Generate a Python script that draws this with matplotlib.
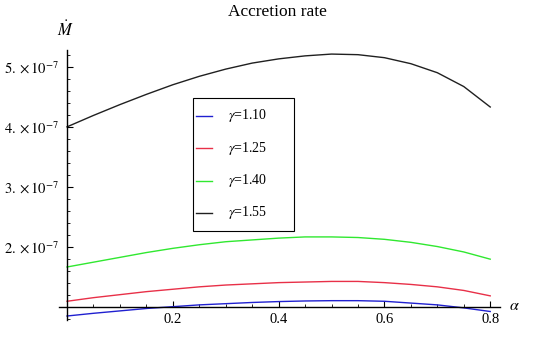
import matplotlib
matplotlib.use("Agg")
import matplotlib.pyplot as plt
from matplotlib.lines import Line2D
from matplotlib.patches import Rectangle
import numpy as np

plt.rcParams['font.family'] = 'serif'
plt.rcParams['font.serif'] = ['Liberation Serif', 'DejaVu Serif']
plt.rcParams['mathtext.fontset'] = 'stix'

# alpha grid and accretion rates (units of 1e-7)
alpha = [0.0, 0.05, 0.1, 0.15, 0.2, 0.25, 0.3, 0.35, 0.4, 0.45, 0.5, 0.55, 0.6, 0.65, 0.7, 0.75, 0.8]
mdot_110 = [0.855, 0.90, 0.94, 0.98, 1.01, 1.04, 1.06, 1.08, 1.095, 1.105, 1.11, 1.11, 1.10, 1.07, 1.04, 0.99, 0.93]
mdot_125 = [1.10, 1.16, 1.21, 1.26, 1.30, 1.34, 1.37, 1.39, 1.41, 1.42, 1.43, 1.43, 1.41, 1.38, 1.34, 1.28, 1.19]
mdot_140 = [1.67, 1.75, 1.83, 1.91, 1.98, 2.04, 2.09, 2.12, 2.15, 2.17, 2.17, 2.16, 2.13, 2.08, 2.01, 1.92, 1.80]
mdot_155 = [4.00, 4.19, 4.37, 4.54, 4.70, 4.84, 4.96, 5.06, 5.13, 5.18, 5.21, 5.20, 5.15, 5.05, 4.90, 4.67, 4.33]

labels = [r'$\gamma$=1.10', r'$\gamma$=1.25', r'$\gamma$=1.40', r'$\gamma$=1.55']
colors = ['#2020d0', '#e83048', '#30e830', '#202020']
yticks = [2e-7, 3e-7, 4e-7, 5e-7]
yticklabels = [r'$2.\times10^{-7}$', r'$3.\times10^{-7}$', r'$4.\times10^{-7}$', r'$5.\times10^{-7}$']
xticks = [0.2, 0.4, 0.6, 0.8]

W, H = 540, 337
fig = plt.figure(figsize=(W / 100, H / 100), dpi=100)
ax = fig.add_axes([0, 0, 1, 1])
ax.patch.set_alpha(0)

a = np.array(alpha)
for ys, c, lab in zip([mdot_110, mdot_125, mdot_140, mdot_155], colors, labels):
    ax.plot(a, np.array(ys) * 1e-7, color=c, lw=1.0, label=lab)

# limits chosen so that the origin lands where the reference has it
ax.set_xlim(-0.1267, 0.8941)
ax.set_ylim(0.506e-7, 6.109e-7)

for s in ['top', 'right']:
    ax.spines[s].set_visible(False)
ax.spines['left'].set_position(('data', 0))
ax.spines['bottom'].set_position(('data', 1e-7))
ax.spines['left'].set_bounds(0.79e-7, 5.28e-7)
ax.spines['bottom'].set_bounds(-0.016, 0.819)
ax.spines['left'].set_linewidth(1.0)
ax.spines['bottom'].set_linewidth(1.0)

ax.set_xticks(xticks, labels=['0.2', '0.4', '0.6', '0.8'])
ax.set_xticks(np.arange(0.05, 0.81, 0.05), minor=True)
ax.set_yticks(yticks, labels=yticklabels)
ax.set_yticks(np.arange(0.8, 5.21, 0.2) * 1e-7, minor=True)
ax.tick_params(which='both', direction='in', labelsize=10.5)
ax.tick_params(which='major', length=4.5, width=0.8)
ax.tick_params(which='minor', length=2.5, width=0.6)
ax.tick_params(axis='x', pad=4)
ax.tick_params(axis='y', pad=6)

fig.text(277 / W, 1 - 12 / H, 'Accretion rate', ha='center', va='center', fontsize=12.5)
fig.text(65 / W, 1 - 30 / H, r'$\dot{M}$', ha='center', va='center', fontsize=12)
fig.text(514 / W, 1 - 306 / H, r'$\alpha$', ha='center', va='center', fontsize=11.5)

# legend box drawn by hand, Mathematica style
fig.patches.append(Rectangle((193 / W, 1 - 231 / H), 101 / W, 133 / H,
                             transform=fig.transFigure, facecolor='white',
                             edgecolor='black', lw=0.8, zorder=5))
for i, (c, lab) in enumerate(zip(colors, labels)):
    yy = 1 - (116 + i * 32.3) / H
    fig.lines.append(Line2D([196 / W, 212 / W], [yy, yy], transform=fig.transFigure,
                            color=c, lw=1.0, zorder=6))
    fig.text(228 / W, yy, lab, ha='left', va='center', fontsize=10, zorder=6)

fig.savefig('out.png', dpi=100)
